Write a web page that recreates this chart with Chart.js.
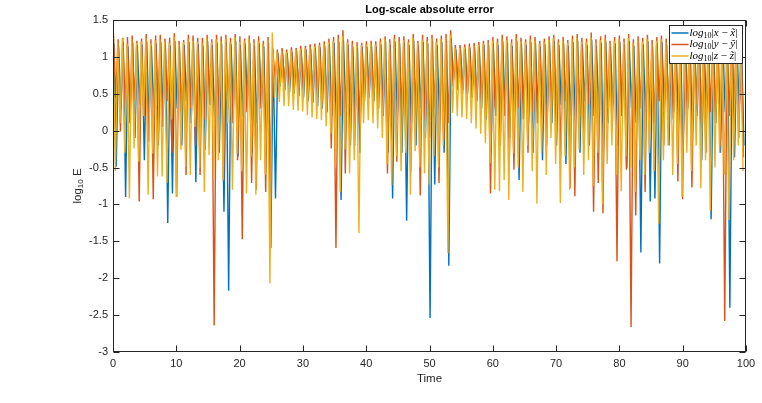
<!DOCTYPE html>
<html lang="en">
<head>
<meta charset="UTF-8">
<title>Log-scale absolute error</title>
<script src="https://cdn.jsdelivr.net/npm/chart.js"></script>
<style>
  html, body { margin: 0; padding: 0; background: #fff; }
  canvas { display: block; }
</style>
</head>
<body>
<canvas id="errChart" width="762" height="403"></canvas>
<script>
  // each cycle: rise to a peak, then fall to a trough; cycles are cycleStep apart in Time
  const cycleStep = 0.74;
  // the three errors are not exactly in phase
  const seriesLag = [0.14, 0.07, 0];

  // log10|x - x~|
  const peaksX = [
    1.18, 1.15, 1.20, 1.14, 1.19, 1.16, 1.17, 1.21, 1.15, 1.18,
    1.20, 1.16, 1.15, 1.22, 1.14, 1.16, 1.20, 1.18, 1.17, 1.15,
    1.21, 1.16, 1.19, 1.18, 1.20, 1.17, 1.22, 1.16, 1.18, 1.19,
    1.15, 1.18, 1.14, 1.19, 1.10, 1.05, 1.06, 1.05, 1.07, 1.08,
    1.09, 1.10, 1.11, 1.12, 1.13, 1.15, 1.17, 1.19, 1.21, 1.23,
    1.16, 1.14, 1.12, 1.13, 1.14, 1.15, 1.14, 1.17, 1.20, 1.16,
    1.21, 1.18, 1.19, 1.16, 1.22, 1.15, 1.20, 1.18, 1.21, 1.16,
    1.20, 1.22, 1.25, 1.10, 1.10, 1.11, 1.12, 1.13, 1.14, 1.16,
    1.16, 1.18, 1.16, 1.21, 1.19, 1.15, 1.22, 1.17, 1.16, 1.20,
    1.18, 1.14, 1.17, 1.19, 1.22, 1.16, 1.18, 1.15, 1.20, 1.22,
    1.17, 1.16, 1.23, 1.15, 1.19, 1.21, 1.14, 1.18, 1.20, 1.16,
    1.22, 1.15, 1.19, 1.17, 1.21, 1.14, 1.18, 1.20, 1.16, 1.22,
    1.17, 1.15, 1.19, 1.21, 1.16, 1.20, 1.14, 1.18, 1.21, 1.17,
    1.19, 1.15, 1.20, 1.18, 1.16
  ];
  const troughsX = [
    -0.49, 0.30, -0.90, 0.20, -0.10, 0.35, -0.40, 0.10, 0.30, -0.20,
    0.20, -1.25, -0.85, 0.30, -0.20, 0.40, 0.10, -0.70, 0.20, -0.26,
    0.35, 0.10, -0.30, -1.10, -2.17, 0.30, -0.35, 0.20, 0.40, -0.30,
    0.10, 0.30, -0.20, -1.59, -0.92, 0.60, 0.55, 0.52, 0.50, 0.47,
    0.45, 0.40, 0.38, 0.33, 0.30, 0.25, 0.20, 0.10, -0.94, 0.30,
    -0.20, 0.20, -0.30, 0.40, 0.45, 0.40, 0.30, 0.20, -0.30, -0.92,
    0.20, -0.30, -1.22, 0.10, -0.20, 0.30, -0.10, -2.54, -0.73, 0.20,
    -0.30, -1.83, 0.69, 0.60, 0.55, 0.50, 0.45, 0.40, 0.30, 0.15,
    -0.30, 0.20, -0.20, 0.30, -0.10, 0.25, -0.67, 0.30, 0.10, -0.30,
    0.30, -0.40, 0.20, 0.10, -0.20, 0.35, -0.45, 0.20, 0.10, -0.30,
    0.40, -0.20, 0.20, 0.30, -0.30, 0.10, 0.35, -0.20, 0.20, -0.51,
    0.30, 0.10, -1.65, 0.20, -0.96, -0.92, -1.80, 0.30, -0.20, 0.25,
    0.10, -0.30, 0.30, -0.10, 0.20, -0.40, 0.30, -1.20, 0.10, -0.30,
    0.25, -2.40, -0.36, 0.30, -0.20
  ];

  // log10|y - y~|
  const peaksY = [
    1.32, 1.24, 1.26, 1.27, 1.29, 1.22, 1.25, 1.31, 1.24, 1.29,
    1.30, 1.25, 1.26, 1.32, 1.22, 1.23, 1.30, 1.29, 1.26, 1.26,
    1.30, 1.24, 1.30, 1.28, 1.30, 1.26, 1.31, 1.28, 1.25, 1.29,
    1.24, 1.28, 1.22, 1.27, 1.12, 1.10, 1.12, 1.10, 1.13, 1.12,
    1.15, 1.15, 1.17, 1.18, 1.19, 1.21, 1.25, 1.27, 1.30, 1.36,
    1.24, 1.22, 1.20, 1.19, 1.21, 1.22, 1.21, 1.25, 1.28, 1.24,
    1.30, 1.27, 1.28, 1.24, 1.31, 1.22, 1.30, 1.27, 1.30, 1.25,
    1.29, 1.31, 1.36, 1.16, 1.16, 1.17, 1.18, 1.19, 1.20, 1.22,
    1.23, 1.27, 1.25, 1.30, 1.28, 1.24, 1.31, 1.26, 1.24, 1.29,
    1.27, 1.22, 1.25, 1.28, 1.30, 1.24, 1.27, 1.23, 1.29, 1.31,
    1.26, 1.25, 1.33, 1.24, 1.28, 1.30, 1.22, 1.27, 1.29, 1.25,
    1.31, 1.24, 1.28, 1.26, 1.30, 1.23, 1.27, 1.29, 1.25, 1.31,
    1.26, 1.24, 1.28, 1.30, 1.25, 1.29, 1.23, 1.27, 1.30, 1.26,
    1.28, 1.24, 1.29, 1.27, 1.25
  ];
  const troughsY = [
    0.45, -0.01, 0.30, 0.10, 0.40, -0.96, 0.20, -0.15, -0.93, 0.35,
    0.05, 0.40, -0.30, -0.90, 0.25, -0.60, 0.30, -0.20, -0.60, 0.15,
    0.40, -2.64, 0.20, -0.69, 0.30, 0.10, -0.40, -1.47, 0.25, -0.71,
    -0.80, 0.30, -0.83, -0.70, 0.70, 0.68, 0.65, 0.62, 0.60, 0.57,
    0.55, 0.52, 0.48, 0.45, 0.40, 0.30, -0.24, -1.59, 0.20, -0.58,
    0.30, -0.20, 0.10, 0.45, 0.50, 0.40, 0.35, 0.20, -0.58, 0.10,
    -0.42, 0.25, 0.20, -0.55, 0.30, -0.88, 0.15, -0.10, 0.30, -0.71,
    -0.13, 0.10, 0.60, 0.55, 0.50, 0.48, 0.45, 0.40, 0.35, 0.20,
    -0.85, 0.30, 0.10, 0.20, -0.42, -0.53, 0.30, 0.15, -0.30, 0.25,
    0.10, 0.40, -0.20, 0.30, 0.20, -0.35, 0.40, -0.78, -0.89, 0.20,
    -0.20, 0.35, -1.10, -0.71, -1.12, 0.30, 0.10, -1.77, 0.20, -0.53,
    -2.66, -1.15, 0.30, -0.83, 0.20, 0.10, 0.40, -0.20, 0.30, 0.15,
    -0.69, -0.93, 0.20, -0.77, 0.35, 0.10, -0.30, 0.25, 0.10, -0.20,
    -2.58, 0.20, 0.40, -0.10, -0.36
  ];

  // log10|z - z~|
  const peaksZ = [
    1.22, 1.20, 1.25, 1.18, 1.24, 1.19, 1.21, 1.26, 1.18, 1.23,
    1.24, 1.20, 1.19, 1.27, 1.17, 1.20, 1.25, 1.22, 1.21, 1.19,
    1.26, 1.20, 1.24, 1.22, 1.25, 1.21, 1.27, 1.20, 1.22, 1.24,
    1.19, 1.22, 1.18, 1.23, 1.33, 1.07, 1.08, 1.07, 1.09, 1.10,
    1.11, 1.12, 1.13, 1.14, 1.16, 1.18, 1.20, 1.22, 1.25, 1.28,
    1.20, 1.17, 1.15, 1.16, 1.17, 1.18, 1.17, 1.21, 1.24, 1.19,
    1.25, 1.22, 1.23, 1.20, 1.26, 1.19, 1.24, 1.22, 1.25, 1.20,
    1.24, 1.26, 1.30, 1.12, 1.12, 1.13, 1.14, 1.15, 1.16, 1.18,
    1.19, 1.22, 1.20, 1.25, 1.23, 1.19, 1.26, 1.21, 1.20, 1.24,
    1.22, 1.18, 1.21, 1.23, 1.26, 1.20, 1.22, 1.19, 1.24, 1.26,
    1.21, 1.20, 1.27, 1.19, 1.23, 1.25, 1.18, 1.22, 1.24, 1.20,
    1.26, 1.19, 1.23, 1.21, 1.25, 1.18, 1.22, 1.24, 1.20, 1.26,
    1.21, 1.19, 1.23, 1.25, 1.20, 1.24, 1.18, 1.22, 1.25, 1.21,
    1.23, 1.19, 1.24, 1.22, 1.20
  ];
  const troughsZ = [
    -0.55, 0.10, -0.30, -0.92, -0.24, -0.42, 0.20, -0.87, -0.31, -0.62,
    -0.62, -0.71, 0.15, -0.90, -0.26, -0.49, -0.60, 0.05, -0.51, -0.83,
    -0.33, -0.65, -0.40, -0.67, 0.10, -0.80, -0.31, -0.55, -0.85, -0.35,
    -0.87, -0.40, -0.60, -2.07, 0.45, 0.39, 0.33, 0.33, 0.28, 0.27,
    0.26, 0.21, 0.18, 0.16, 0.14, 0.06, -0.04, -0.50, -0.83, -0.26,
    -0.58, -0.40, -1.39, 0.10, 0.14, 0.10, 0.03, -0.10, -0.45, -0.74,
    -0.35, -0.55, -0.30, -0.87, -0.28, -0.50, -0.58, -0.73, -0.35, -0.50,
    -0.20, -1.66, 0.24, 0.20, 0.18, 0.16, 0.10, 0.03, -0.04, -0.17,
    -0.44, -0.80, -0.82, -0.67, -0.94, -0.30, -0.50, -0.83, -0.20, -0.55,
    -0.99, -0.30, -0.60, -0.10, -0.45, -0.98, -0.35, -0.80, -0.50, -0.25,
    -0.60, -0.40, -0.75, -0.30, -1.00, -0.45, -0.20, -0.60, -0.82, -0.35,
    -0.50, -0.83, -0.40, -0.60, -0.30, -0.55, -1.26, -0.40, -0.20, -0.60,
    -0.45, -0.90, -0.30, -0.55, -0.20, -0.78, -0.40, -1.09, -0.50, -0.30,
    -0.60, -1.21, -0.40, -0.20, -0.55
  ];

  const legendVars = ['x', 'y', 'z'];
  const seriesColors = ['#0072BD', '#D95319', '#EDB120'];

  const axisColor = '#262626';
  const sans = '"Liberation Sans", Arial, Helvetica, sans-serif';
  const serif = '"Liberation Serif", "DejaVu Serif", serif';

  function buildSeries(peaks, troughs, lag) {
    const pts = [];
    for (let k = 0; k < peaks.length; k++) {
      pts.push({ x: k * cycleStep + lag, y: peaks[k] });
      pts.push({ x: k * cycleStep + cycleStep / 2 + lag, y: troughs[k] });
    }
    return pts;
  }

  // draws a run of text pieces one after the other, returns the end x
  function drawPieces(ctx, x, y, pieces, measureOnly) {
    for (const p of pieces) {
      ctx.font = p.font;
      if (!measureOnly) ctx.fillText(p.t, x, y + (p.dy || 0));
      x += ctx.measureText(p.t).width;
    }
    return x;
  }

  function legendPieces(v) {
    const it = 'italic 11px ' + serif;
    const up = '11px ' + serif;
    return [
      { t: 'log', font: it },
      { t: '10', font: '8px ' + serif, dy: 2.5 },
      { t: '|', font: up },
      { t: v, font: it },
      { t: ' \u2212 ', font: up },
      { t: v + '\u0303', font: it },
      { t: '|', font: up }
    ];
  }

  const framePlugin = {
    id: 'frame',
    afterDatasetsDraw(chart) {
      const { ctx, chartArea: a, scales: { x, y } } = chart;
      ctx.save();
      ctx.strokeStyle = axisColor;
      ctx.lineWidth = 1;

      const L = Math.round(a.left) + 0.5, R = Math.round(a.right) - 0.5;
      const T = Math.round(a.top) + 0.5, B = Math.round(a.bottom) - 0.5;
      ctx.strokeRect(L, T, R - L, B - T);

      // inward tick marks on all four sides
      const tickLen = 6;
      ctx.beginPath();
      x.ticks.forEach(t => {
        const px = Math.round(x.getPixelForValue(t.value)) + 0.5;
        ctx.moveTo(px, B); ctx.lineTo(px, B - tickLen);
        ctx.moveTo(px, T); ctx.lineTo(px, T + tickLen);
      });
      y.ticks.forEach(t => {
        const py = Math.round(y.getPixelForValue(t.value)) + 0.5;
        ctx.moveTo(L, py); ctx.lineTo(L + tickLen, py);
        ctx.moveTo(R, py); ctx.lineTo(R - tickLen, py);
      });
      ctx.stroke();

      // legend box, top right inside the axes
      const bw = 73, bh = 38;
      const bx = Math.round(a.right) - 77 + 0.5, by = Math.round(a.top) + 5 + 0.5;
      ctx.fillStyle = '#fff';
      ctx.fillRect(bx, by, bw, bh);
      ctx.strokeStyle = axisColor;
      ctx.strokeRect(bx, by, bw, bh);
      ctx.textBaseline = 'middle';
      ctx.textAlign = 'left';
      legendVars.forEach((v, i) => {
        const ly = by + 7.5 + i * 11.5;
        ctx.strokeStyle = seriesColors[i];
        ctx.lineWidth = 1.5;
        ctx.beginPath();
        ctx.moveTo(bx + 2, ly); ctx.lineTo(bx + 19, ly);
        ctx.stroke();
        ctx.fillStyle = '#000';
        drawPieces(ctx, bx + 20, ly, legendPieces(v));
      });

      // title and axis labels
      const cx = (a.left + a.right) / 2;
      ctx.fillStyle = '#000';
      ctx.textAlign = 'center';
      ctx.font = 'bold 11px ' + sans;
      ctx.fillText('Log-scale absolute error', cx, 10);

      ctx.fillStyle = axisColor;
      ctx.font = '11.5px ' + sans;
      ctx.fillText('Time', cx, 379);

      const yl = [
        { t: 'log', font: '11.5px ' + sans },
        { t: '10', font: '8px ' + sans, dy: 3 },
        { t: ' E', font: '11.5px ' + sans }
      ];
      ctx.save();
      ctx.translate(78, (a.top + a.bottom) / 2);
      ctx.rotate(-Math.PI / 2);
      ctx.textAlign = 'left';
      const w = drawPieces(ctx, 0, 0, yl, true);
      drawPieces(ctx, -w / 2, 0, yl);
      ctx.restore();

      ctx.restore();
    }
  };

  const tickFont = { family: sans, size: 11 };

  new Chart(document.getElementById('errChart'), {
    type: 'line',
    data: {
      datasets: [
        { label: 'x', data: buildSeries(peaksX, troughsX, seriesLag[0]), borderColor: seriesColors[0], order: 2 },
        { label: 'y', data: buildSeries(peaksY, troughsY, seriesLag[1]), borderColor: seriesColors[1], order: 1 },
        { label: 'z', data: buildSeries(peaksZ, troughsZ, seriesLag[2]), borderColor: seriesColors[2], order: 0 }
      ]
    },
    options: {
      responsive: false,
      animation: false,
      events: [],
      elements: {
        line: { borderWidth: 1.4, tension: 0 },
        point: { radius: 0 }
      },
      layout: { padding: { top: 20, right: 16, left: 0, bottom: 0 } },
      plugins: { legend: { display: false }, tooltip: { enabled: false } },
      scales: {
        x: {
          type: 'linear', min: 0, max: 100,
          grid: { display: false, drawTicks: false },
          border: { display: false },
          ticks: { stepSize: 10, font: tickFont, color: axisColor, padding: 5, maxRotation: 0 },
          afterFit: s => { s.height = 51; }
        },
        y: {
          min: -3, max: 1.5,
          grid: { display: false, drawTicks: false },
          border: { display: false },
          ticks: { stepSize: 0.5, font: tickFont, color: axisColor, padding: 5, callback: v => String(v) },
          afterFit: s => { s.width = 113; }
        }
      }
    },
    plugins: [framePlugin]
  });
</script>
</body>
</html>
